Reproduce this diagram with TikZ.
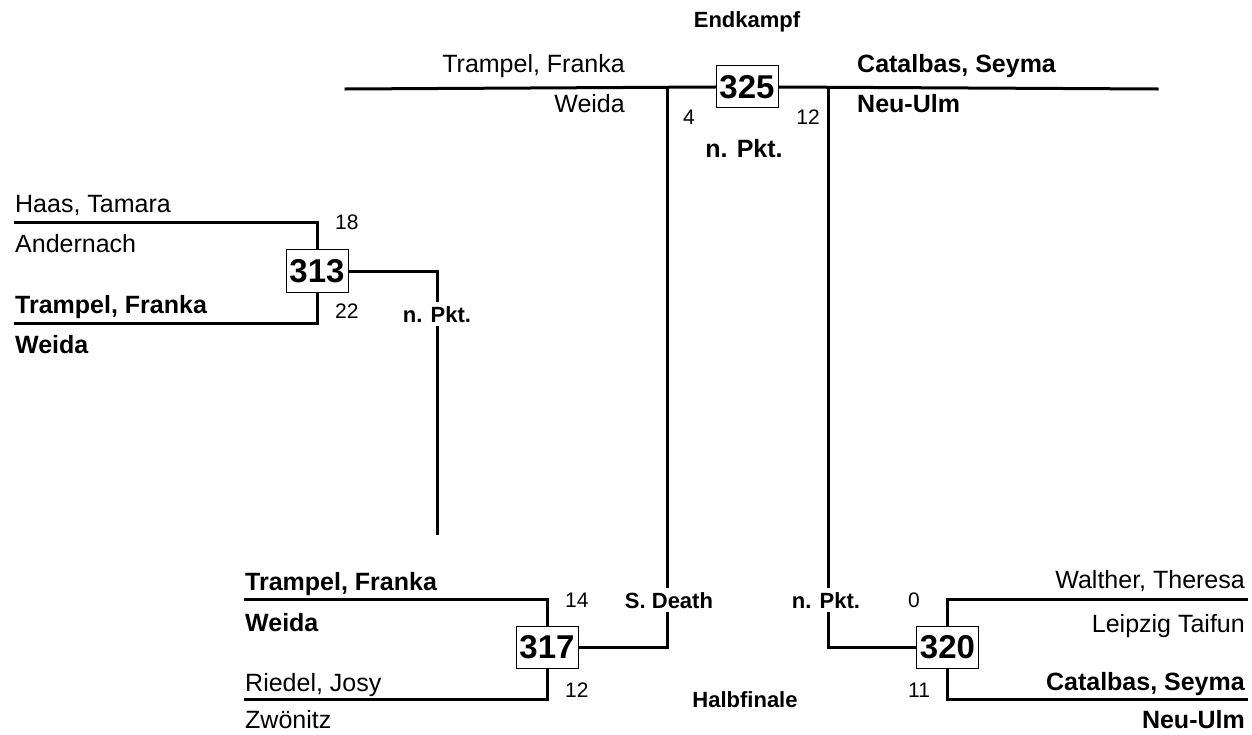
\documentclass[tikz,border=0pt]{standalone}
\usepackage{fontspec}
\setmainfont{Liberation Sans}
\begin{document}
\begin{tikzpicture}[x=1pt,y=-1pt,
  conn/.style={line width=3pt, line cap=rect},
  boxnode/.style={draw, line width=1pt, fill=white, minimum width=62pt, minimum height=42pt, inner sep=0pt, font=\fontsize{33}{36}\selectfont\bfseries},
  pname/.style={inner sep=0pt, font=\fontsize{25}{28}\selectfont},
  bpname/.style={inner sep=0pt, font=\fontsize{25}{28}\selectfont\bfseries},
  scoretxt/.style={inner sep=0pt, font=\fontsize{21}{24}\selectfont},
  labtxt/.style={inner sep=0pt, font=\fontsize{22}{26}\selectfont\bfseries},
  gaplab/.style={labtxt, fill=white, inner ysep=4pt, inner xsep=2pt}]
\useasboundingbox (0,0) rectangle (1252,735);

% coordinates
\coordinate (tl) at (346,89);
\coordinate (tr) at (1157,89);
\coordinate (tlv) at (667,89);
\coordinate (trv) at (828,89);
\coordinate (a1) at (15,223);
\coordinate (a2) at (15,323);
\coordinate (aend) at (437,533);
\coordinate (c1) at (245,599);
\coordinate (c2) at (245,699);
\coordinate (d1) at (1246,599);
\coordinate (d2) at (1246,699);

% boxes
\node[boxnode] (b325) at (747,87) {325};
\node[boxnode] (b313) at (317,271) {313};
\node[boxnode] (b317) at (547,647) {317};
\node[boxnode] (b320) at (947.5,647) {320};

% connectors
\draw[conn] (tl) -- (b325.west);
\draw[conn] (b325.east) -- (tr);
\draw[conn] (a1) -| (b313.north);
\draw[conn] (a2) -| (b313.south);
\draw[conn] (b313.east) -| (aend);
\draw[conn] (c1) -| (b317.north);
\draw[conn] (c2) -| (b317.south);
\draw[conn] (b317.east) -| (tlv);
\draw[conn] (d1) -| (b320.north);
\draw[conn] (d2) -| (b320.south);
\draw[conn] (b320.west) -| (trv);

% redraw boxes on top
\node[boxnode] at (b325) {325};
\node[boxnode] at (b313) {313};
\node[boxnode] at (b317) {317};
\node[boxnode] at (b320) {320};

% labels on lines (gaps)
\node[gaplab, anchor=base] (l313) at (437,322) {n. Pkt.};
\node[gaplab, anchor=base] (lsd) at (669,608) {S. Death};
\node[gaplab, anchor=base] (l320) at (826,608) {n. Pkt.};

% titles
\node[labtxt, anchor=base] (tEnd) at (747,28) {Endkampf};
\node[labtxt, anchor=base, font=\fontsize{25}{28}\selectfont\bfseries] (tPkt) at (744,158) {n. Pkt.};
\node[labtxt, anchor=base] (tHalb) at (745,707) {Halbfinale};

% final names
\node[pname, anchor=base east] (f1) at (625,73) {Trampel, Franka};
\node[pname, anchor=base east] (f1c) at (625,113) {Weida};
\node[bpname, anchor=base west] (f2) at (857,73) {Catalbas, Seyma};
\node[bpname, anchor=base west] (f2c) at (857,113) {Neu-Ulm};
\node[scoretxt, anchor=base west] (s4) at (683,125) {4};
\node[scoretxt, anchor=base east] (s12) at (820,125) {12};

% 313
\node[pname, anchor=base west] (n1) at (15,213) {Haas, Tamara};
\node[pname, anchor=base west] (n1c) at (15,253) {Andernach};
\node[bpname, anchor=base west] (n2) at (15,313) {Trampel, Franka};
\node[bpname, anchor=base west] (n2c) at (15,353) {Weida};
\node[scoretxt, anchor=base west] (s18) at (335,230) {18};
\node[scoretxt, anchor=base west] (s22) at (335,318) {22};

% 317
\node[bpname, anchor=base west] (m1) at (245,590) {Trampel, Franka};
\node[bpname, anchor=base west] (m1c) at (245,631) {Weida};
\node[pname, anchor=base west] (m2) at (245,691) {Riedel, Josy};
\node[pname, anchor=base west] (m2c) at (245,728) {Zwönitz};
\node[scoretxt, anchor=base west] (s14) at (565,607) {14};
\node[scoretxt, anchor=base west] (s12b) at (565,697) {12};

% 320
\node[pname, anchor=base east] (r1) at (1245,588) {Walther, Theresa};
\node[pname, anchor=base east] (r1c) at (1245,632) {Leipzig Taifun};
\node[bpname, anchor=base east] (r2) at (1245,690) {Catalbas, Seyma};
\node[bpname, anchor=base east] (r2c) at (1245,728) {Neu-Ulm};
\node[scoretxt, anchor=base west] (s0) at (908,607) {0};
\node[scoretxt, anchor=base west] (s11) at (908,697) {11};
\end{tikzpicture}
\end{document}
